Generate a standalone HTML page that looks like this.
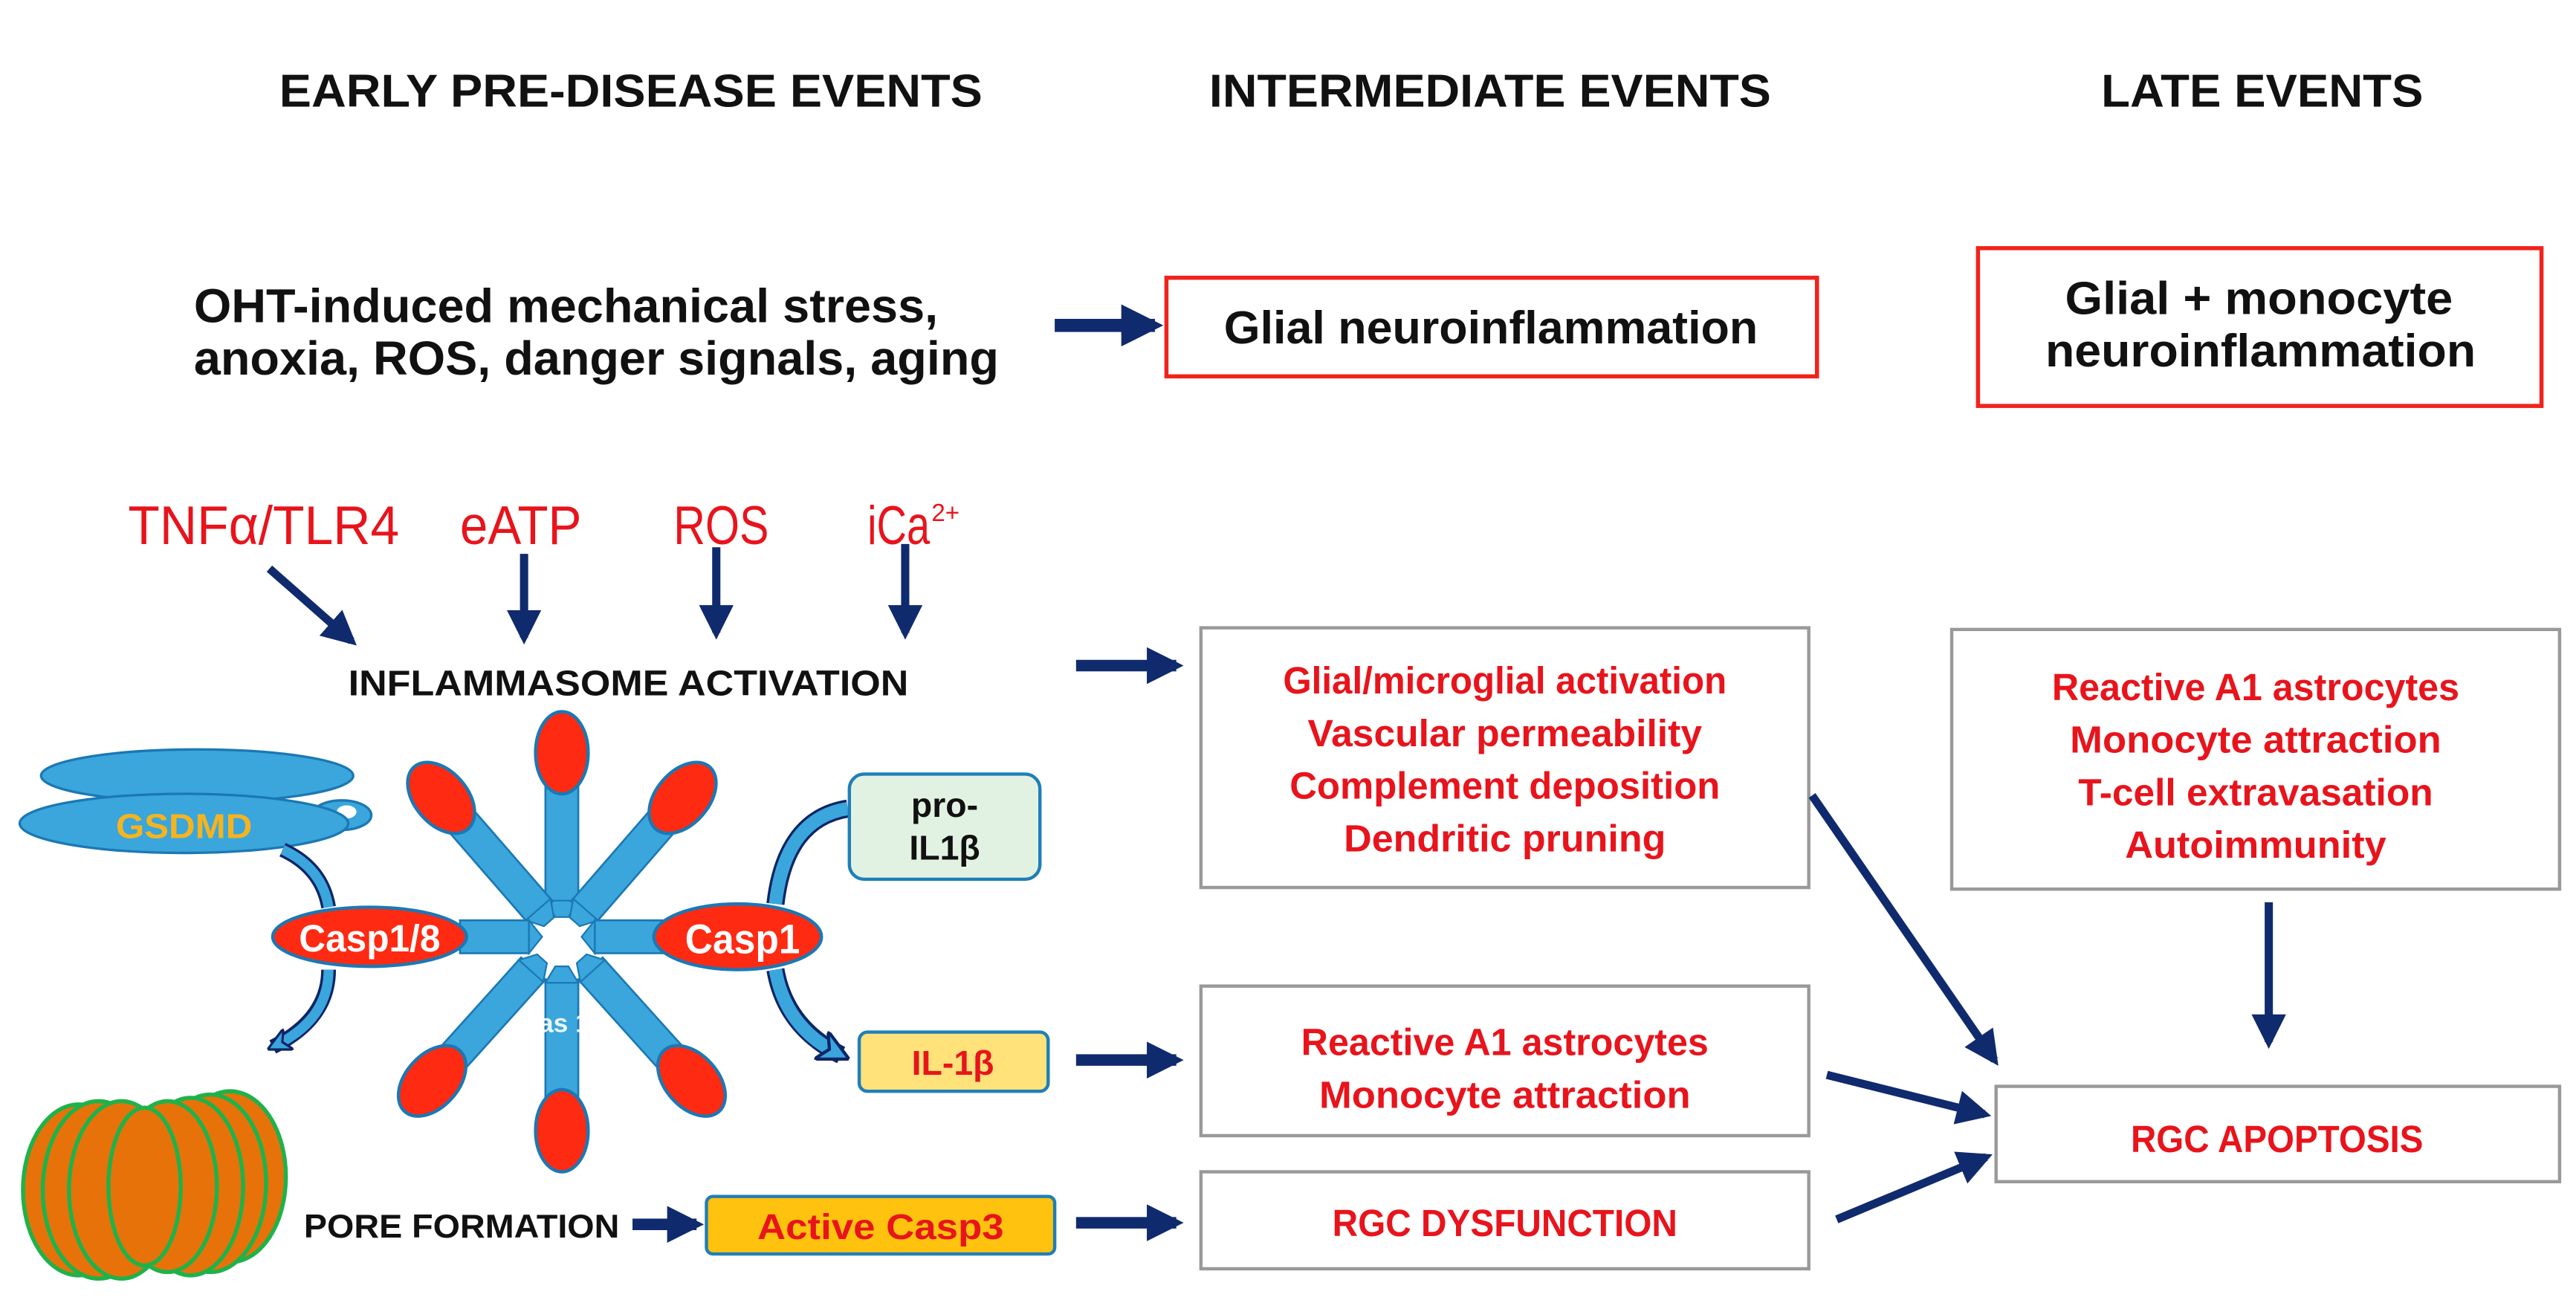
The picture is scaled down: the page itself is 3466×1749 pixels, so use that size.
<!DOCTYPE html>
<html><head><meta charset="utf-8"><style>
html,body{margin:0;padding:0;background:#fff;}
svg{display:block;}
text{font-family:"Liberation Sans",Arial,sans-serif;}
</style></head><body>
<svg xmlns="http://www.w3.org/2000/svg" width="3466" height="1749" viewBox="0 0 1568 791" preserveAspectRatio="none">
<defs>
<marker id="ah" viewBox="0 0 10 10" refX="8" refY="5" markerWidth="3.2" markerHeight="3.2" orient="auto" markerUnits="strokeWidth">
<path d="M0,0 L10,5 L0,10 z" fill="#102a6e"/></marker>
<marker id="ah2" viewBox="0 0 10 10" refX="8" refY="5" markerWidth="4.2" markerHeight="4.2" orient="auto" markerUnits="strokeWidth">
<path d="M0,0 L10,5 L0,10 z" fill="#102a6e"/></marker>
<marker id="bh" viewBox="0 0 10 10" refX="6" refY="5" markerWidth="2.4" markerHeight="2.4" orient="auto" markerUnits="strokeWidth">
<path d="M0,0 L10,5 L0,10 L3,5 z" fill="#3aa6dc" stroke="#0d2466" stroke-width="1"/></marker>
</defs>

<!-- headers -->
<g font-weight="bold" font-size="28" fill="#111">
<text x="170" y="65" textLength="428" lengthAdjust="spacingAndGlyphs">EARLY PRE-DISEASE EVENTS</text>
<text x="736" y="65" textLength="342" lengthAdjust="spacingAndGlyphs">INTERMEDIATE EVENTS</text>
<text x="1279" y="65" textLength="196" lengthAdjust="spacingAndGlyphs">LATE EVENTS</text>
</g>

<!-- OHT -->
<g font-weight="bold" font-size="29" fill="#111">
<text x="118" y="196" textLength="453" lengthAdjust="spacingAndGlyphs">OHT-induced mechanical stress,</text>
<text x="118" y="228" textLength="490" lengthAdjust="spacingAndGlyphs">anoxia, ROS, danger signals, aging</text>
</g>
<line x1="642" y1="198" x2="703" y2="198" stroke="#102a6e" stroke-width="8" marker-end="url(#ah)"/>
<rect x="710" y="169" width="396" height="60" fill="#fff" stroke="#f0231c" stroke-width="2.5"/>
<text x="745" y="209" font-weight="bold" font-size="28" fill="#111" textLength="325" lengthAdjust="spacingAndGlyphs">Glial neuroinflammation</text>
<rect x="1204" y="151" width="343" height="96" fill="#fff" stroke="#f0231c" stroke-width="2.5"/>
<text x="1375" y="191" text-anchor="middle" font-weight="bold" font-size="28" fill="#111" textLength="236" lengthAdjust="spacingAndGlyphs">Glial + monocyte</text>
<text x="1376" y="223" text-anchor="middle" font-weight="bold" font-size="28" fill="#111" textLength="262" lengthAdjust="spacingAndGlyphs">neuroinflammation</text>

<!-- activators -->
<g font-size="33" fill="#e8141c">
<text x="78" y="331" textLength="165" lengthAdjust="spacingAndGlyphs">TNFα/TLR4</text>
<text x="280" y="331" textLength="74" lengthAdjust="spacingAndGlyphs">eATP</text>
<text x="410" y="331" textLength="58" lengthAdjust="spacingAndGlyphs">ROS</text>
<text x="528" y="331" textLength="38" lengthAdjust="spacingAndGlyphs">iCa</text>
<text x="567" y="317" font-size="15">2+</text>
</g>
<g stroke="#102a6e" stroke-width="5">
<line x1="164" y1="346" x2="214" y2="390" marker-end="url(#ah2)"/>
<line x1="319" y1="337" x2="319" y2="388" marker-end="url(#ah2)"/>
<line x1="436" y1="333" x2="436" y2="385" marker-end="url(#ah2)"/>
<line x1="551" y1="331" x2="551" y2="385" marker-end="url(#ah2)"/>
</g>
<text x="212" y="423" font-weight="bold" font-size="22" fill="#111" textLength="341" lengthAdjust="spacingAndGlyphs">INFLAMMASOME ACTIVATION</text>
<line x1="655" y1="405" x2="716" y2="405" stroke="#102a6e" stroke-width="7" marker-end="url(#ah)"/>

<!-- GSDMD -->
<ellipse cx="120" cy="472" rx="95" ry="16" fill="#3aa6dc" stroke="#1b78b4" stroke-width="1.5"/>
<ellipse cx="208" cy="496" rx="18" ry="9" fill="#3aa6dc" stroke="#1b78b4" stroke-width="1.5"/>
<ellipse cx="211" cy="494" rx="6" ry="4" fill="#fff"/>
<ellipse cx="112" cy="501" rx="100" ry="18" fill="#3aa6dc" stroke="#1b78b4" stroke-width="1.5"/>
<text x="112" y="510" text-anchor="middle" font-weight="bold" font-size="21" fill="#f5b41e" textLength="83" lengthAdjust="spacingAndGlyphs">GSDMD</text>

<!-- curved arrows -->
<path d="M172,517 Q196,528 200,552" fill="none" stroke="#0d2466" stroke-width="9"/>
<path d="M172,517 Q196,528 200,552" fill="none" stroke="#3aa6dc" stroke-width="6"/>
<path d="M200,590 Q200,620 166,637" fill="none" stroke="#0d2466" stroke-width="9"/>
<path d="M200,590 Q200,620 168,636" fill="none" stroke="#3aa6dc" stroke-width="6" marker-end="url(#bh)"/>
<path d="M516,492 Q478,498 472,550" fill="none" stroke="#0d2466" stroke-width="11"/>
<path d="M516,492 Q478,498 472,550" fill="none" stroke="#3aa6dc" stroke-width="8"/>
<path d="M472,590 Q478,625 512,642" fill="none" stroke="#0d2466" stroke-width="11"/>
<path d="M472,590 Q478,625 510,641" fill="none" stroke="#3aa6dc" stroke-width="8" marker-end="url(#bh)"/>

<!-- star arms -->
<g transform="translate(342,570)">
<g id="arm">
<rect x="-10" y="-98" width="20" height="78" fill="#3aa6dc" stroke="#1b78b4" stroke-width="1.2"/>
<path d="M-10,-22 L10,-22 L4,-12 L-4,-12 z" fill="#3aa6dc" stroke="#1b78b4" stroke-width="1"/>
<ellipse cx="0" cy="-103" rx="7" ry="6" fill="#27b34a"/>
<ellipse cx="0" cy="-112" rx="16" ry="25" fill="#ff2a12" stroke="#1b78b4" stroke-width="2"/>
</g>
<use href="#arm" transform="rotate(-41)"/>
<use href="#arm" transform="rotate(41)"/>
<use href="#arm" transform="rotate(180) translate(0,-6)"/>
<use href="#arm" transform="rotate(-138) translate(0,-6)"/>
<use href="#arm" transform="rotate(138) translate(0,-6)"/>
<rect x="-62" y="-10" width="42" height="20" fill="#3aa6dc" stroke="#1b78b4" stroke-width="1.2"/>
<path d="M-20,-10 L-12,0 L-20,10 z" fill="#3aa6dc" stroke="#1b78b4"/>
<rect x="20" y="-10" width="42" height="20" fill="#3aa6dc" stroke="#1b78b4" stroke-width="1.2"/>
<path d="M20,-10 L12,0 L20,10 z" fill="#3aa6dc" stroke="#1b78b4"/>
</g>
<text x="328" y="628" font-weight="bold" font-size="16" fill="#fff" opacity="0.9">as 1</text>
<ellipse cx="225" cy="570" rx="59" ry="18" fill="#ff2a12" stroke="#1b78b4" stroke-width="2"/>
<text x="225" y="579" text-anchor="middle" font-weight="bold" font-size="23" fill="#fff" textLength="86" lengthAdjust="spacingAndGlyphs">Casp1/8</text>
<ellipse cx="449" cy="570" rx="51" ry="20" fill="#ff2a12" stroke="#1b78b4" stroke-width="2"/>
<text x="452" y="580" text-anchor="middle" font-weight="bold" font-size="25" fill="#fff" textLength="70" lengthAdjust="spacingAndGlyphs">Casp1</text>

<!-- pro-IL1b -->
<rect x="517" y="471" width="116" height="64" rx="9" fill="#e2f2e2" stroke="#1f7fb8" stroke-width="2"/>
<text x="575" y="497" text-anchor="middle" font-weight="bold" font-size="21" fill="#111">pro-</text>
<text x="575" y="523" text-anchor="middle" font-weight="bold" font-size="21" fill="#111">IL1β</text>
<!-- IL-1b -->
<rect x="523" y="628" width="115" height="36" rx="5" fill="#ffe27a" stroke="#1f7fb8" stroke-width="2"/>
<text x="580" y="654" text-anchor="middle" font-weight="bold" font-size="21" fill="#e8141c">IL-1β</text>
<line x1="655" y1="645" x2="716" y2="645" stroke="#102a6e" stroke-width="7" marker-end="url(#ah)"/>

<!-- pore -->
<g fill="#e8720a" stroke="#1fb24a" stroke-width="2.5">
<ellipse cx="140" cy="716" rx="34" ry="52"/>
<ellipse cx="48" cy="724" rx="34" ry="52"/>
<ellipse cx="128" cy="720" rx="34" ry="54"/>
<ellipse cx="60" cy="724" rx="34" ry="54"/>
<ellipse cx="116" cy="722" rx="32" ry="54"/>
<ellipse cx="74" cy="724" rx="32" ry="54"/>
<ellipse cx="102" cy="722" rx="30" ry="52"/>
<ellipse cx="88" cy="722" rx="22" ry="48"/>
</g>
<text x="185" y="753" font-weight="bold" font-size="20" fill="#111" textLength="192" lengthAdjust="spacingAndGlyphs">PORE FORMATION</text>
<line x1="385" y1="745" x2="424" y2="745" stroke="#102a6e" stroke-width="7" marker-end="url(#ah)"/>
<rect x="430" y="728" width="212" height="35" rx="4" fill="#ffc20e" stroke="#1f7fb8" stroke-width="2"/>
<text x="536" y="754" text-anchor="middle" font-weight="bold" font-size="22" fill="#e8141c" textLength="150" lengthAdjust="spacingAndGlyphs">Active Casp3</text>
<line x1="655" y1="744" x2="716" y2="744" stroke="#102a6e" stroke-width="7" marker-end="url(#ah)"/>

<!-- intermediate boxes -->
<g fill="#fff" stroke="#999" stroke-width="2">
<rect x="731" y="382" width="370" height="158"/>
<rect x="1188" y="383" width="370" height="158"/>
<rect x="731" y="600" width="370" height="91"/>
<rect x="731" y="713" width="370" height="59"/>
<rect x="1215" y="661" width="343" height="58"/>
</g>
<g font-weight="bold" font-size="23" fill="#e8141c" text-anchor="middle">
<text x="916" y="422" textLength="270" lengthAdjust="spacingAndGlyphs">Glial/microglial activation</text>
<text x="916" y="454" textLength="240" lengthAdjust="spacingAndGlyphs">Vascular permeability</text>
<text x="916" y="486" textLength="262" lengthAdjust="spacingAndGlyphs">Complement deposition</text>
<text x="916" y="518" textLength="196" lengthAdjust="spacingAndGlyphs">Dendritic pruning</text>
<text x="1373" y="426" textLength="248" lengthAdjust="spacingAndGlyphs">Reactive A1 astrocytes</text>
<text x="1373" y="458" textLength="226" lengthAdjust="spacingAndGlyphs">Monocyte attraction</text>
<text x="1373" y="490" textLength="216" lengthAdjust="spacingAndGlyphs">T-cell extravasation</text>
<text x="1373" y="522" textLength="159" lengthAdjust="spacingAndGlyphs">Autoimmunity</text>
<text x="916" y="642" textLength="248" lengthAdjust="spacingAndGlyphs">Reactive A1 astrocytes</text>
<text x="916" y="674" textLength="226" lengthAdjust="spacingAndGlyphs">Monocyte attraction</text>
<text x="916" y="752" textLength="210" lengthAdjust="spacingAndGlyphs">RGC DYSFUNCTION</text>
<text x="1386" y="701" textLength="178" lengthAdjust="spacingAndGlyphs">RGC APOPTOSIS</text>
</g>

<!-- right arrows -->
<g stroke="#102a6e" stroke-width="5">
<line x1="1103" y1="484" x2="1214" y2="645" marker-end="url(#ah2)"/>
<line x1="1381" y1="549" x2="1381" y2="634" marker-end="url(#ah2)"/>
<line x1="1112" y1="654" x2="1208" y2="678" marker-end="url(#ah2)"/>
<line x1="1118" y1="742" x2="1209" y2="704" marker-end="url(#ah2)"/>
</g>
</svg>
</body></html>
